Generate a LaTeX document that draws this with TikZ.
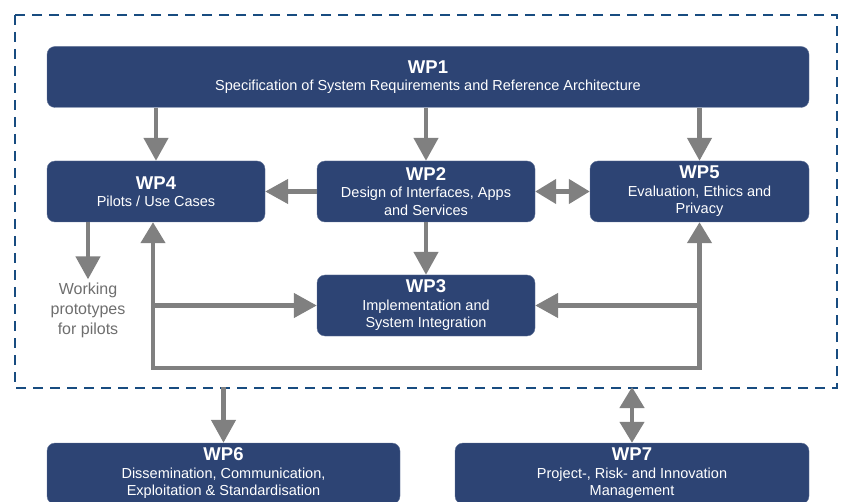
\documentclass[tikz,border=0pt]{standalone}
\usepackage{fontspec}
\setmainfont{Liberation Sans}
\usetikzlibrary{arrows.meta}
\definecolor{wpfill}{RGB}{45,68,116}
\definecolor{frameblue}{RGB}{24,76,128}
\definecolor{arrgray}{RGB}{128,128,128}
\definecolor{protogray}{RGB}{110,110,110}
\tikzset{
  wp/.style={fill=wpfill, draw=wpfill!75!white, rounded corners=8pt, text=white,
    align=center, inner sep=0pt, minimum height=61pt,
    font=\fontsize{14.5}{17.5}\selectfont},
  tip/.style={Triangle[width=24pt,length=23pt]},
  arr/.style={draw=arrgray, line width=4.5pt, -{Triangle[width=24pt,length=23pt]}},
  arrb/.style={draw=arrgray, line width=4.5pt,
    {Triangle[width=24pt,length=21pt]}-{Triangle[width=24pt,length=21pt]}},
  frame/.style={draw=frameblue, line width=2.5pt, dash pattern=on 10pt off 7pt},
}
\begin{document}
\begin{tikzpicture}[x=1pt,y=-1pt]
  \def\wp#1#2{{\fontsize{18.5}{18}\selectfont\bfseries #1}\\#2}
  \useasboundingbox (0,0) rectangle (845,502);

  % dashed frame
  \draw[frame] (15,15) rectangle (837,388);
  \coordinate (fb) at (0,387);

  % work packages
  \node[wp, minimum width=762pt] (wp1) at (428,77)
    {\wp{WP1}{Specification of System Requirements and Reference Architecture}};
  \node[wp, minimum width=218pt] (wp4) at (156,191.5)
    {\wp{WP4}{Pilots / Use Cases}};
  \node[wp, minimum width=218pt] (wp2) at (426,191.5)
    {\wp{WP2}{Design of Interfaces, Apps\\and Services}};
  \node[wp, minimum width=219pt] (wp5) at (699.5,191.5)
    {\wp{WP5}{Evaluation, Ethics and\\Privacy}};
  \node[wp, minimum width=218pt] (wp3) at (426,305.5)
    {\wp{WP3}{Implementation and\\System Integration}};
  \node[wp, minimum width=353pt] (wp6) at (223.5,473.5)
    {\wp{WP6}{Dissemination, Communication,\\Exploitation \& Standardisation}};
  \node[wp, minimum width=354pt] (wp7) at (632,473.5)
    {\wp{WP7}{Project-, Risk- and Innovation\\Management}};
  \node[text=protogray, align=center, inner sep=3pt, font=\fontsize{16}{20}\selectfont]
    (proto) at (88,310) {Working\\prototypes\\for pilots};

  % loop back from WP3
  \coordinate (lp) at (153,368);
  \coordinate (rp) at (699.5,368);

  % arrows
  \draw[arr] (wp1.south -| wp4.north) -- (wp4.north);
  \draw[arr] (wp1.south -| wp2.north) -- (wp2.north);
  \draw[arr] (wp1.south -| wp5.north) -- (wp5.north);
  \draw[arr] (wp2.west) -- (wp4.east);
  \draw[arrb] (wp2.east) -- (wp5.west);
  \draw[arr] (wp2.south) -- (wp3.north);
  \draw[arr] (wp4.south -| proto.north) -- (proto.north);
  \draw[arrb] (wp4.south -| lp) -- (lp) -- (rp) -- (wp5.south);
  \draw[arr] (lp |- wp3.west) -- (wp3.west);
  \draw[arr] (rp |- wp3.east) -- (wp3.east);
  \draw[arr] (wp6.north |- fb) -- (wp6.north);
  \draw[arrb] (wp7.north |- fb) -- (wp7.north);
\end{tikzpicture}
\end{document}
